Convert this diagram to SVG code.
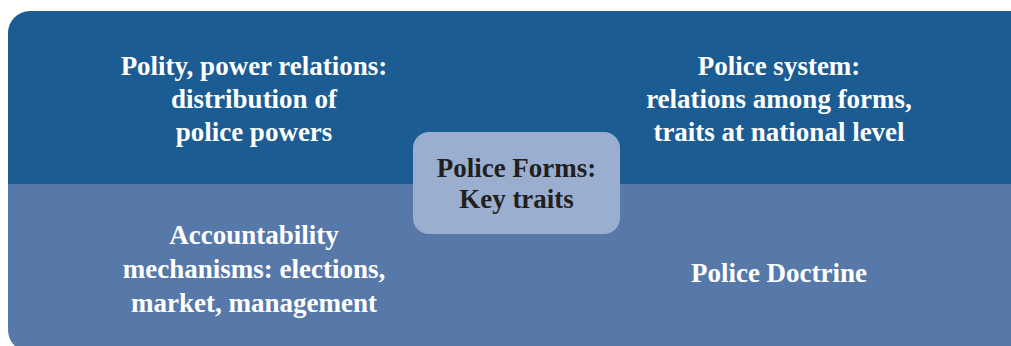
<svg xmlns="http://www.w3.org/2000/svg" width="1011" height="346" viewBox="0 0 1011 346">
<style>
.lbl{font-family:"Liberation Serif","Times New Roman",serif;font-weight:bold;font-size:27px;fill:#ffffff;text-anchor:middle}
.ctr{font-family:"Liberation Serif","Times New Roman",serif;font-weight:bold;font-size:27px;fill:#231f20;text-anchor:middle}
</style>
<defs>
<clipPath id="outer"><rect x="8" y="11" width="1030" height="341" rx="22" ry="22"/></clipPath>
</defs>
<rect width="1011" height="346" fill="#ffffff"/>
<g id="background" clip-path="url(#outer)">
<rect x="0" y="0" width="1040" height="184" fill="#1b5c93"/>
<rect x="0" y="184" width="1040" height="170" fill="#5679a9"/>
</g>
<g id="node-polity">
<text class="lbl" x="254" y="75">Polity, power relations:</text>
<text class="lbl" x="254" y="108">distribution of</text>
<text class="lbl" x="254" y="141">police powers</text>
</g>
<g id="node-system">
<text class="lbl" x="779" y="75">Police system:</text>
<text class="lbl" x="779" y="108">relations among forms,</text>
<text class="lbl" x="779" y="141">traits at national level</text>
</g>
<g id="node-accountability">
<text class="lbl" x="254" y="244">Accountability</text>
<text class="lbl" x="254" y="278">mechanisms: elections,</text>
<text class="lbl" x="254" y="312">market, management</text>
</g>
<g id="node-doctrine">
<text class="lbl" x="779" y="282">Police Doctrine</text>
</g>
<g id="node-forms">
<rect x="413" y="132" width="207" height="102" rx="16" ry="16" fill="#9aafd0"/>
<text class="ctr" x="516.5" y="177">Police Forms:</text>
<text class="ctr" x="516.5" y="208">Key traits</text>
</g>
<g id="connectors"></g>
</svg>
